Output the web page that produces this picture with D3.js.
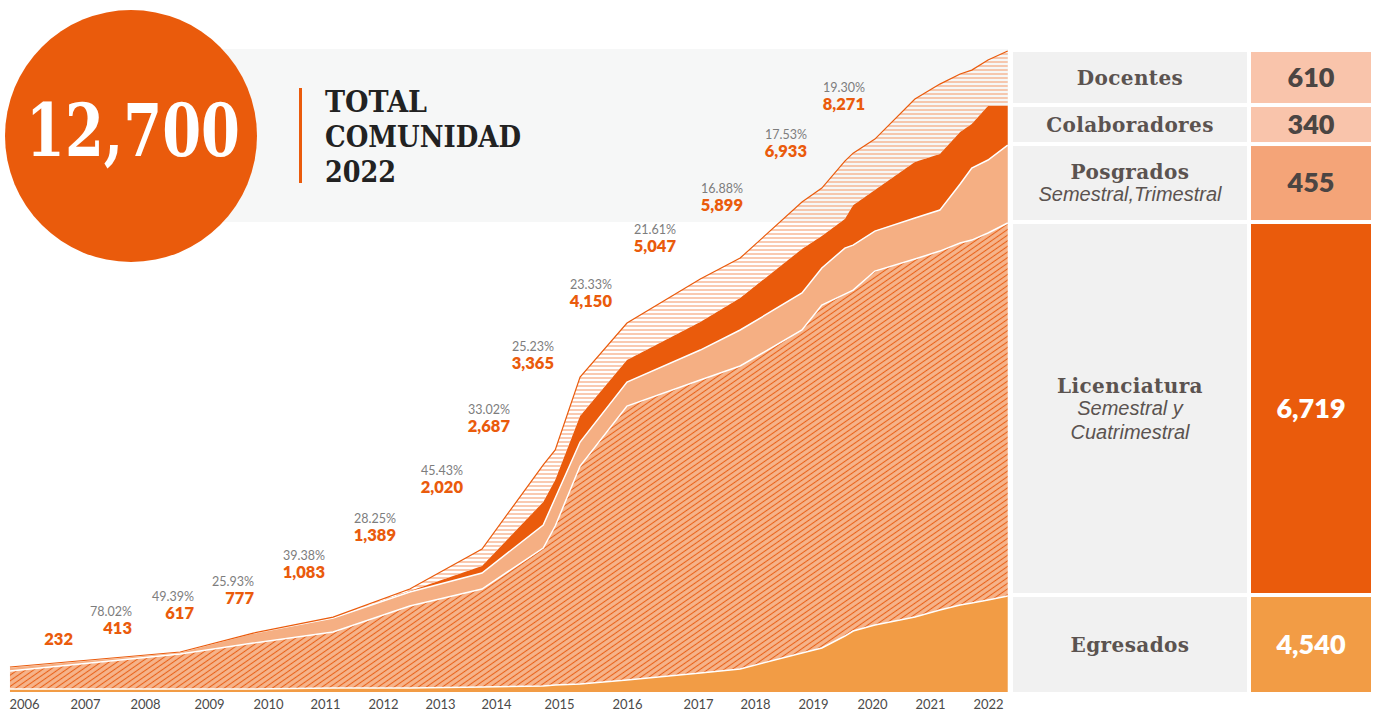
<!DOCTYPE html>
<html>
<head>
<meta charset="utf-8">
<script src="https://cdn.jsdelivr.net/npm/d3@7"></script>
<style>
  body { margin: 0; background: #fff; }
  svg { display: block; }
</style>
</head>
<body>
<svg id="chart" width="1377" height="713"></svg>
<script>
// ---- data ----
var years = d3.range(2006, 2023)
// x positions of the area vertices (fractional years)
var t = [2005.77, 2008.55, 2009.75, 2011.14, 2012.47, 2013.75, 2014.75, 2014.94, 2015.31, 2016.00, 2017.04, 2017.74,
         2018.81, 2019.15, 2019.54, 2019.68, 2020.05, 2020.74, 2021.17, 2021.52, 2021.72, 2022.00, 2022.34]
var egresados     = [59, 59, 59, 79, 79, 99, 119, 139, 158, 238, 376, 456, 773, 872, 1109, 1208, 1327, 1486, 1624, 1724, 1763, 1823, 1902]
var licenciatura  = [357, 693, 911, 1109, 1624, 1941, 2734, 3150, 4319, 5428, 5805, 6003, 6399, 6795, 6775, 6755, 7013, 7092, 7112, 7172, 7191, 7271, 7390]
var posgrados     = [79, 40, 198, 277, 277, 317, 456, 555, 475, 475, 594, 713, 733, 733, 911, 891, 792, 812, 812, 1169, 1426, 1446, 1545]
var colaboradores = [0, 0, 0, 0, 20, 139, 456, 357, 515, 436, 555, 634, 872, 634, 575, 792, 812, 1109, 1109, 1030, 872, 1070, 773]
var docentes      = [0, 0, 0, 20, 40, 337, 733, 594, 773, 733, 852, 792, 931, 951, 1149, 1030, 1010, 1248, 1387, 1149, 1070, 911, 1090]

var labelYears = d3.range(2006, 2020)
var totals = [232, 413, 617, 777, 1083, 1389, 2020, 2687, 3365, 4150, 5047, 5899, 6933, 8271]

var categories = ['Docentes', 'Colaboradores', 'Posgrados', 'Licenciatura', 'Egresados']
var subtitles = [[], [], ['Semestral,Trimestral'], ['Semestral y', 'Cuatrimestral'], []]
var counts2022 = [610, 340, 455, 6719, 4540]
var titleYear = 2022

// ---- layout ----
var svg = d3.select('#chart')
var tickX = [24, 85, 145, 209, 268, 325, 383, 440, 496, 559, 627, 698, 755, 813, 872, 930, 988]
var labelRight = [73, 132, 194, 254, 325, 396, 463, 510, 554, 612, 676, 743, 807, 865]
var labelBase = [645, 634, 619, 604, 578, 541, 493, 432, 369, 307, 252, 211, 157, 110]

var orange = '#EA5B0C'
var slab = "'DejaVu Serif', serif"
var keys = ['egresados', 'licenciatura', 'posgrados', 'colaboradores', 'docentes']
var series = {egresados: egresados, licenciatura: licenciatura, posgrados: posgrados,
              colaboradores: colaboradores, docentes: docentes}

var rows = t.map(function(d, i) {
  var r = {t: d}
  keys.forEach(function(k) { r[k] = series[k][i] })
  return r
})
var stacked = d3.stack().keys(keys)(rows)
var total = d3.sum(keys, function(k) { return series[k][t.length - 1] })

var x = d3.scaleLinear().domain(years).range(tickX)
var y = d3.scaleLinear().domain([0, total]).range([692, 51])

// patterns
var defs = svg.append('defs')
var pLic = defs.append('pattern').attr('id', 'hLic')
  .attr('patternUnits', 'userSpaceOnUse').attr('width', 10).attr('height', 4.6)
  .attr('patternTransform', 'rotate(-35)')
pLic.append('rect').attr('width', 10).attr('height', 4.6).attr('fill', '#F6B48B')
pLic.append('line').attr('x1', 0).attr('x2', 10).attr('y1', 2.3).attr('y2', 2.3)
  .attr('stroke', '#E9621A').attr('stroke-width', 1.1)

var pDoc = defs.append('pattern').attr('id', 'hDoc')
  .attr('patternUnits', 'userSpaceOnUse').attr('width', 8).attr('height', 4)
pDoc.append('line').attr('x1', 0).attr('x2', 8).attr('y1', 2).attr('y2', 2)
  .attr('stroke', '#F5A67C').attr('stroke-width', 1.2)

// header panel
svg.append('rect').attr('x', 131).attr('y', 49).attr('width', 877).attr('height', 173).attr('fill', '#F6F7F7')

// areas
var fills = {egresados: '#F29C45', licenciatura: 'url(#hLic)', posgrados: '#F5AF83',
             colaboradores: orange, docentes: 'url(#hDoc)'}
var area = d3.area()
  .x(function(d) { return x(d.data.t) })
  .y0(function(d) { return y(d[0]) })
  .y1(function(d) { return y(d[1]) })
var topLine = d3.line()
  .x(function(d) { return x(d.data.t) })
  .y(function(d) { return y(d[1]) })

svg.append('g').selectAll('path').data(stacked).enter()
  .append('path')
  .attr('d', area)
  .attr('fill', function(d) { return fills[d.key] })

svg.append('g').selectAll('path').data(stacked.slice(0, 3)).enter()
  .append('path')
  .attr('d', topLine)
  .attr('fill', 'none')
  .attr('stroke', '#fff')
  .attr('stroke-width', 1.5)

svg.append('path').datum(stacked[4])
  .attr('d', topLine)
  .attr('fill', 'none')
  .attr('stroke', orange)
  .attr('stroke-width', 1.2)

// x axis
var axis = svg.append('g').attr('transform', 'translate(0,698)')
  .call(d3.axisBottom(x).tickValues(years).tickFormat(d3.format('d')).tickSize(0).tickPadding(2))
axis.select('.domain').remove()
axis.selectAll('text')
  .style('font-family', 'Lato, sans-serif').style('font-size', '13px').attr('fill', '#4a4a4a')

// yearly totals and growth
var fmt = d3.format(',')
var pct = d3.format('.2f')
var lab = svg.append('g').selectAll('g').data(labelYears).enter().append('g')
lab.append('text')
  .attr('x', function(d, i) { return labelRight[i] })
  .attr('y', function(d, i) { return labelBase[i] })
  .attr('text-anchor', 'end')
  .style('font-family', 'Lato, sans-serif').style('font-weight', 800).style('font-size', '16.5px')
  .attr('fill', orange)
  .text(function(d, i) { return fmt(totals[i]) })
lab.filter(function(d, i) { return i > 0 }).append('text')
  .attr('x', function(d, i) { return labelRight[i + 1] })
  .attr('y', function(d, i) { return labelBase[i + 1] - 18 })
  .attr('text-anchor', 'end')
  .style('font-family', 'Lato, sans-serif').style('font-size', '12.5px')
  .attr('fill', '#7d7d7d')
  .text(function(d, i) { return pct((totals[i + 1] / totals[i] - 1) * 100) + '%' })

// big circle
svg.append('circle').attr('cx', 131).attr('cy', 136).attr('r', 126).attr('fill', orange)
svg.append('text').attr('x', 133).attr('y', 156)
  .attr('text-anchor', 'middle')
  .attr('textLength', 214).attr('lengthAdjust', 'spacingAndGlyphs')
  .style('font-family', slab).style('font-weight', 'bold')
  .style('font-size', '72px').attr('fill', '#fff')
  .text(fmt(total))

svg.append('rect').attr('x', 299).attr('y', 88).attr('width', 3).attr('height', 95).attr('fill', orange)
var titleWidths = [102, 196, 71]
svg.append('g').selectAll('text').data(['TOTAL', 'COMUNIDAD', String(titleYear)]).enter()
  .append('text')
  .attr('x', 325).attr('y', function(d, i) { return 112 + i * 35 })
  .attr('textLength', function(d, i) { return titleWidths[i] }).attr('lengthAdjust', 'spacingAndGlyphs')
  .style('font-family', slab).style('font-weight', 'bold').style('font-size', '29px')
  .attr('fill', '#222')
  .text(function(d) { return d })

// right panel, rows follow the 2022 layers
var last = stacked.map(function(s) { return s[s.length - 1] }).reverse()
var cellFill = ['#F9C4AB', '#F9C4AB', '#F4A478', orange, '#F29C45']
var valueColor = ['#4B4543', '#4B4543', '#4B4543', '#fff', '#fff']
var panel = svg.append('g').selectAll('g').data(categories).enter().append('g')
  .each(function(name, i) {
    var g = d3.select(this)
    var top = y(last[i][1]), bot = y(last[i][0])
    var ry = top + 1, rh = bot - top - (i == 4 ? 1 : 4)
    var c = ry + rh / 2
    g.append('rect').attr('x', 1013).attr('y', ry).attr('width', 234).attr('height', rh).attr('fill', '#F1F1F1')
    g.append('rect').attr('x', 1251).attr('y', ry).attr('width', 120).attr('height', rh).attr('fill', cellFill[i])

    var subs = subtitles[i]
    var spread = subs.length ? 22 + (subs.length - 1) * 24 : 0
    var y0 = c + 7 - spread / 2
    g.append('text').attr('x', 1130).attr('y', y0)
      .attr('text-anchor', 'middle')
      .style('font-family', slab).style('font-weight', 'bold').style('font-size', '20px')
      .style('letter-spacing', '0.4px')
      .attr('fill', '#5B5350')
      .text(name)
    subs.forEach(function(s, j) {
      g.append('text').attr('x', 1130).attr('y', y0 + 22 + j * 24)
        .attr('text-anchor', 'middle')
        .style('font-family', "'Liberation Sans', Arial, sans-serif").style('font-style', 'italic')
        .style('font-size', '20px')
        .attr('fill', '#5B5350')
        .text(s)
    })
    g.append('text').attr('x', 1311).attr('y', c + 9)
      .attr('text-anchor', 'middle')
      .style('font-family', 'Lato, sans-serif').style('font-weight', 800).style('font-size', '27px')
      .attr('fill', valueColor[i])
      .text(fmt(counts2022[i]))
  })
</script>
</body>
</html>
